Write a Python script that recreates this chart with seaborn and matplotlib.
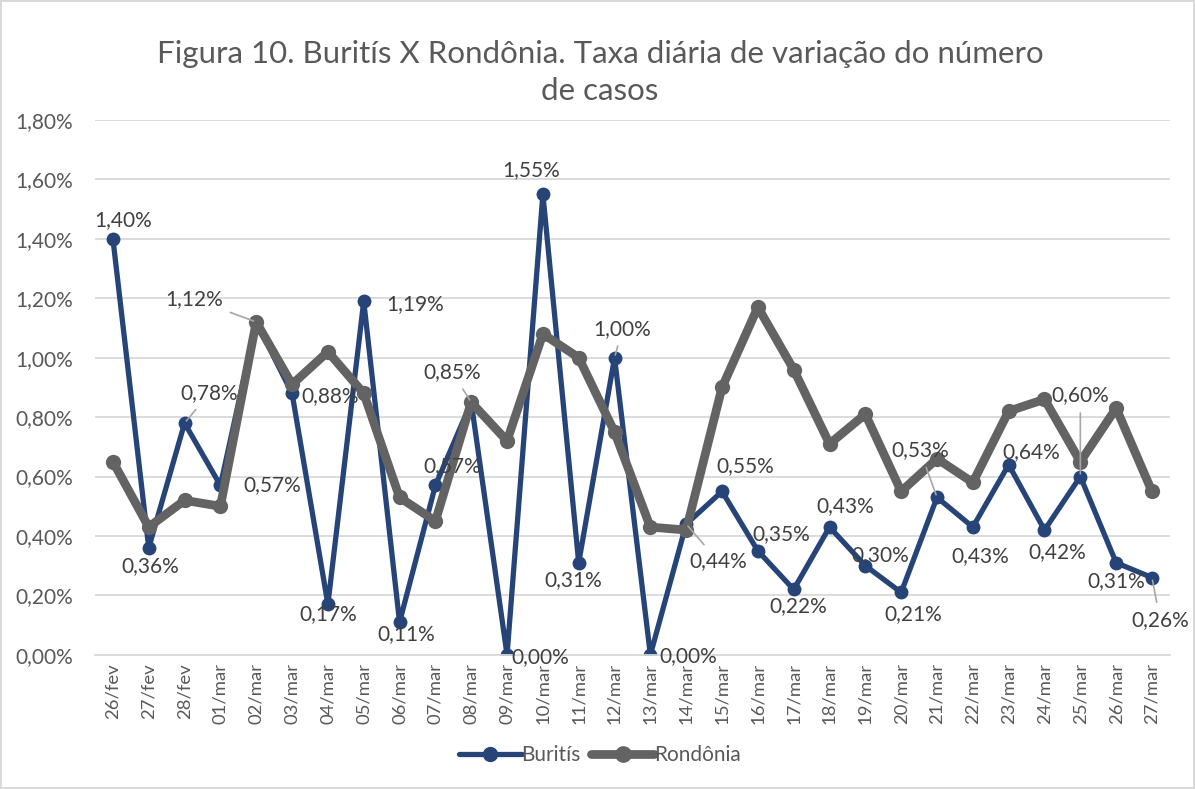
import numpy as np
import pandas as pd
import seaborn as sns
import matplotlib.pyplot as plt
from matplotlib.ticker import FuncFormatter, MultipleLocator
from matplotlib.lines import Line2D

# dados (taxa diaria em %)
dias = ["26/fev", "27/fev", "28/fev", "01/mar", "02/mar", "03/mar", "04/mar", "05/mar",
        "06/mar", "07/mar", "08/mar", "09/mar", "10/mar", "11/mar", "12/mar", "13/mar",
        "14/mar", "15/mar", "16/mar", "17/mar", "18/mar", "19/mar", "20/mar", "21/mar",
        "22/mar", "23/mar", "24/mar", "25/mar", "26/mar", "27/mar"]
buritis = [1.40, 0.36, 0.78, 0.57, 1.12, 0.88, 0.17, 1.19, 0.11, 0.57,
           0.85, 0.00, 1.55, 0.31, 1.00, 0.00, 0.44, 0.55, 0.35, 0.22,
           0.43, 0.30, 0.21, 0.53, 0.43, 0.64, 0.42, 0.60, 0.31, 0.26]
rondonia = [0.65, 0.43, 0.52, 0.50, 1.12, 0.91, 1.02, 0.88, 0.53, 0.45,
            0.85, 0.72, 1.08, 1.00, 0.75, 0.43, 0.42, 0.90, 1.17, 0.96,
            0.71, 0.81, 0.55, 0.66, 0.58, 0.82, 0.86, 0.65, 0.83, 0.55]

# deslocamento dos rotulos (pixels, relativo ao ponto) e se tem linha guia
rot_off = [(10, 19), (2, -18), (25, 30), (52, 0), (-62, 23), (38, -3), (0, -10), (51, -3),
           (7, -12), (17, 19), (-19, 30), (33, -2), (-12, 24), (-5, -17), (8, 29), (38, -1),
           (32, -37), (23, 25), (23, 17), (5, -17), (16, 21), (15, 11), (12, -22), (-17, 47),
           (7, -29), (23, 13), (13, -22), (0, 81), (0, -18), (8, -42)]
guia = {2, 4, 10, 14, 16, 23, 27, 29}

azul = "#264478"
cinza = "#636363"

sns.set_theme(style="white")
plt.rcParams['font.family'] = ['Lato', 'DejaVu Sans']

df = pd.DataFrame({"dia": dias, "Buritís": buritis, "Rondônia": rondonia})

fig = plt.figure(figsize=(11.95, 7.89), dpi=100)
fig.patch.set_edgecolor("#d9d9d9")
fig.patch.set_linewidth(1.5)
ax = fig.add_axes([0.0795, 0.170, 0.8995, 0.678])

sns.lineplot(data=df, x="dia", y="Buritís", color=azul, linewidth=3.8, marker="o",
             markersize=10, markeredgewidth=0, sort=False, ax=ax)
sns.lineplot(data=df, x="dia", y="Rondônia", color=cinza, linewidth=6.3, marker="o",
             markersize=11, markeredgewidth=0, sort=False, ax=ax)

for i, v in enumerate(buritis):
    dx, dy = rot_off[i]
    txt = f"{v:.2f}%".replace(".", ",")
    if i in guia:
        ax.annotate(txt, (i, v), xytext=(dx, dy), textcoords="offset pixels",
                    ha="center", va="center", fontsize=15, color="#404040", zorder=10,
                    arrowprops=dict(arrowstyle="-", color="#a6a6a6", lw=1.2,
                                    shrinkA=3, shrinkB=2))
    else:
        ax.annotate(txt, (i, v), xytext=(dx, dy), textcoords="offset pixels",
                    ha="center", va="center", fontsize=15, color="#404040", zorder=10)

ax.set_xlim(-0.5, len(dias) - 0.5)
ax.set_ylim(0, 1.8)
ax.yaxis.set_major_locator(MultipleLocator(0.2))
ax.yaxis.set_major_formatter(FuncFormatter(lambda v, p: f"{v:.2f}%".replace(".", ",")))
ax.set_xticks(range(len(dias)))
ax.set_xticklabels(dias, rotation=90)
ax.set_xticks(np.arange(-0.5, len(dias), 1), minor=True)
ax.tick_params(axis="x", which="major", length=0, pad=6, labelsize=13.3, labelcolor="#595959")
ax.tick_params(axis="x", which="minor", length=8, color="#d9d9d9", width=1.2)
ax.tick_params(axis="y", length=0, pad=16, labelsize=15, labelcolor="#595959")
ax.yaxis.grid(True, color="#d9d9d9", lw=1.3)
ax.set_axisbelow(True)
for s in ["top", "right", "left"]:
    ax.spines[s].set_visible(False)
ax.spines["bottom"].set_color("#d9d9d9")
ax.spines["bottom"].set_linewidth(1.3)
ax.set_xlabel("")
ax.set_ylabel("")

fig.text(0.502, 0.908, "Figura 10. Buritís X Rondônia. Taxa diária de variação do número\nde casos",
         ha="center", va="center", fontsize=22.5, color="#595959", linespacing=1.4)

handles = [Line2D([], [], color=azul, lw=3.8, marker="o", markersize=10),
           Line2D([], [], color=cinza, lw=6.3, marker="o", markersize=11)]
fig.legend(handles, ["Buritís", "Rondônia"], loc="center", bbox_to_anchor=(0.502, 0.043),
           ncol=2, frameon=False, fontsize=15, handlelength=3, columnspacing=0.5,
           handletextpad=0.0, labelcolor="#595959")

fig.savefig("out.png", dpi=100)
